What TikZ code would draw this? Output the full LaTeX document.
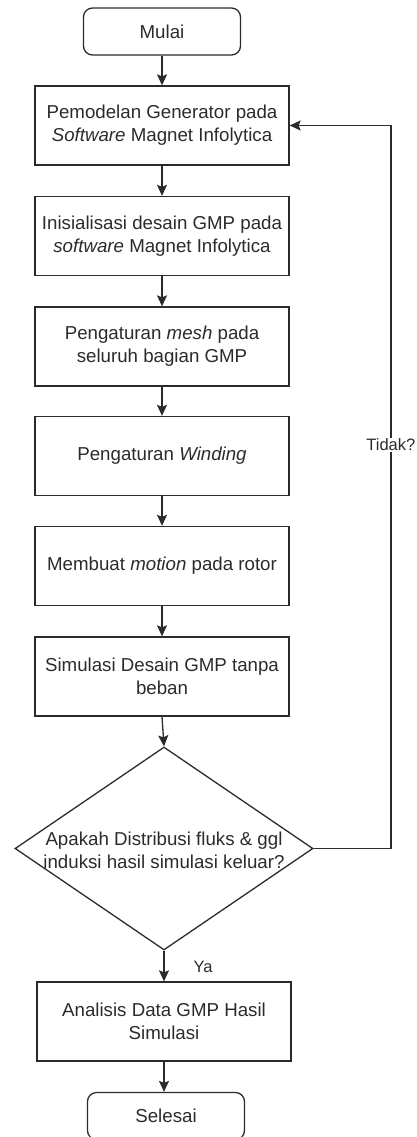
\documentclass[tikz,border=0pt]{standalone}
\usepackage{fontspec}
\setmainfont{Liberation Sans}
\usetikzlibrary{shapes.geometric,arrows.meta}
\definecolor{ln}{HTML}{2B2B2B}
\definecolor{tx}{HTML}{2B2B2B}
\tikzset{
  every node/.style={font=\fontsize{18.7}{23}\selectfont, text=tx},
  proc/.style={draw=ln, line width=1.3pt, minimum width=254pt, minimum height=79pt, align=center, inner sep=0pt},
  term/.style={draw=ln, line width=1.3pt, rounded corners=9pt, minimum width=157pt, minimum height=47pt, inner sep=0pt},
  dec/.style={draw=ln, line width=1.3pt, diamond, minimum width=298pt, minimum height=203pt, inner sep=0pt},
  arr/.style={draw=ln, line width=1.3pt, -{Stealth[width=10pt,length=11pt,inset=2pt]}},
  lbl/.style={font=\fontsize{16.5}{20}\selectfont},
}
\begin{document}
\begin{tikzpicture}[x=1pt,y=-1pt]
\useasboundingbox (0,0) rectangle (417,1137);
\node[term] (start) at (162,31.5) {Mulai};
\node[proc] (b1) at (162,125.5) {Pemodelan Generator pada\\\textit{Software} Magnet Infolytica};
\node[proc] (b2) at (162,236) {Inisialisasi desain GMP pada\\\textit{software} Magnet Infolytica};
\node[proc] (b3) at (162,346.5) {Pengaturan \textit{mesh} pada\\seluruh bagian GMP};
\node[proc] (b4) at (162,456) {Pengaturan \textit{Winding}};
\node[proc] (b5) at (162,566) {Membuat \textit{motion} pada rotor};
\node[proc] (b6) at (162,676.5) {Simulasi Desain GMP tanpa\\beban};
\node[dec] (d) at (164,848.5) {};
\node[align=center, inner sep=0pt] (dt) at (164,850) {Apakah Distribusi fluks \& ggl\\induksi hasil simulasi keluar?};
\node[proc] (b7) at (164,1021.5) {Analisis Data GMP Hasil\\Simulasi};
\node[term] (end) at (166,1116) {Selesai};
\coordinate (r1) at (391,848.5);
\coordinate (r2) at (391,125.5);
\draw[arr] (start) -- (b1);
\draw[arr] (b1) -- (b2);
\draw[arr] (b2) -- (b3);
\draw[arr] (b3) -- (b4);
\draw[arr] (b4) -- (b5);
\draw[arr] (b5) -- (b6);
\draw[arr] (b6.south) -- (d.north);
\draw[arr] (d.south) -- (b7.north);
\draw[arr] (b7.south) -- (b7.south |- end.north);
\draw[arr] (d.east) -- (r1) -- (r2) -- (b1.east);
\node[lbl, fill=white, inner sep=1pt, anchor=east] (tidak) at (416.5,445) {Tidak?};
\node[lbl] (ya) at (203,967) {Ya};
\end{tikzpicture}
\end{document}
